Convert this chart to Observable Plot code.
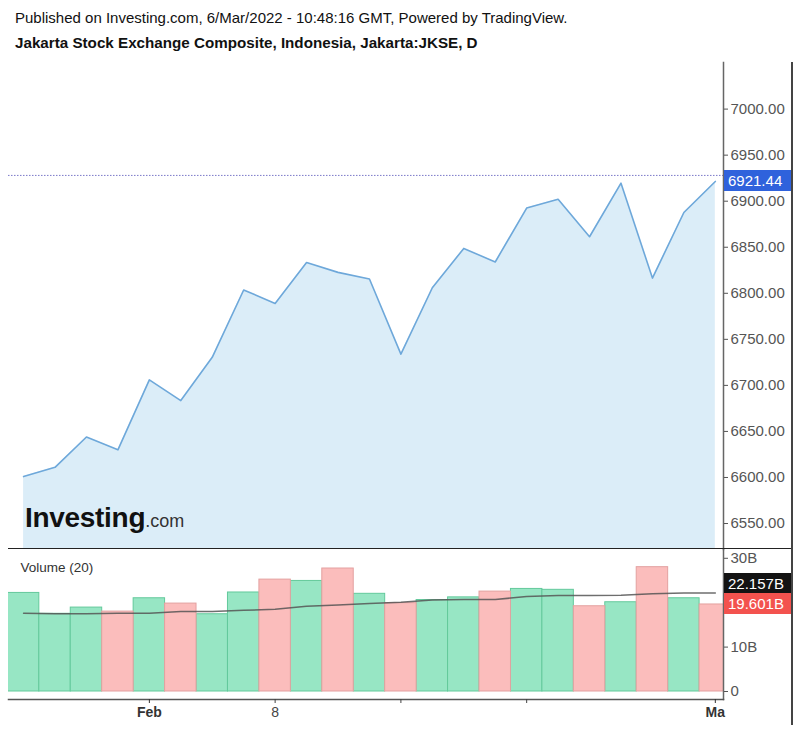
<!DOCTYPE html>
<html><head><meta charset="utf-8">
<script src="https://cdn.jsdelivr.net/npm/d3@7"></script>
<script src="https://cdn.jsdelivr.net/npm/@observablehq/plot@0.6"></script>
<style>
body{margin:0;background:#fff;font-family:"Liberation Sans",Arial,sans-serif;}
#wrap{position:relative;width:800px;height:730px;overflow:hidden;background:#fff;}
.h1{position:absolute;left:15px;top:9px;font-size:15px;color:#111;white-space:nowrap;}
.h2{position:absolute;left:15px;top:34px;font-size:15.2px;font-weight:bold;color:#111;white-space:nowrap;}
#price{position:absolute;left:0;top:60px;}
#vol{position:absolute;left:0;top:549px;}
.sep{position:absolute;left:8px;top:548px;width:784px;height:0;border-top:1.5px solid #222;}
.rb{position:absolute;left:791px;top:62px;width:0;height:663px;border-left:2px solid #444;}
.logo{position:absolute;left:25px;top:504px;line-height:28px;white-space:nowrap;}
.logo .inv{font-size:28px;font-weight:bold;color:#111;letter-spacing:-0.3px;}
.logo .com{font-size:18px;color:#333;}
.tag{position:absolute;left:724px;width:63px;height:21px;line-height:21px;padding-left:4px;font-size:15px;color:#fff;white-space:nowrap;}
</style>
</head><body>
<div id="wrap">
  <div class="h1">Published on Investing.com, 6/Mar/2022 - 10:48:16 GMT, Powered by TradingView.</div>
  <div class="h2">Jakarta Stock Exchange Composite, Indonesia, Jakarta:JKSE, D</div>
  <div id="price"></div>
  <div id="vol"></div>
  <div class="sep"></div>
  <div class="rb"></div>
  <div class="logo"><span class="inv">Investing</span><span class="com">.com</span></div>
</div>
<script>
// ---- data ----
const dates = ["2022-01-26","2022-01-27","2022-01-28","2022-01-31","2022-02-02","2022-02-03","2022-02-04","2022-02-07","2022-02-08","2022-02-09","2022-02-10","2022-02-11","2022-02-14","2022-02-15","2022-02-16","2022-02-17","2022-02-18","2022-02-21","2022-02-22","2022-02-23","2022-02-24","2022-02-25","2022-03-01"];
const closes = [6601, 6611, 6644, 6630, 6706, 6683.5, 6730.5, 6803.6, 6789, 6833.5, 6822.7, 6815.5, 6734, 6806, 6848.7, 6834, 6892.5, 6902, 6861.4, 6919.6, 6816.5, 6887.7, 6921.44];
const volumes = [22.2, 17.5, 18.9, 18.0, 21.0, 19.8, 17.4, 22.3, 25.2, 24.9, 27.7, 22.0, 19.9, 20.6, 21.2, 22.5, 23.1, 22.9, 19.2, 20.1, 28.0, 21.0, 19.601];
const volDir = ["up","up","up","down","up","down","up","up","down","up","down","up","down","up","up","down","up","up","down","up","down","up","down"];
const volMA = [17.6, 17.5, 17.5, 17.6, 17.6, 18.0, 18.0, 18.3, 18.5, 19.2, 19.5, 19.8, 20.1, 20.6, 20.7, 20.7, 21.4, 21.6, 21.6, 21.7, 22.0, 22.2, 22.157];
const priceTicks = [6550, 6600, 6650, 6700, 6750, 6800, 6850, 6900, 6950, 7000];
const volTicks = [0, 10, 30];
const xTickIdx = [4, 8, 12, 16, 22];
const xTickLabels = ["Feb", "8", "", "", "Ma"];
const xTickBold = [true, false, false, false, true];
const priceLine = 6928;
const lastPriceLabel = "6921.44";
const volMALabel = "22.157B";
const volLastLabel = "19.601B";

// ---- layout / style ----
const font = '"Liberation Sans", Arial, sans-serif';
const xDomain = [-0.48, 22.26];
const priceDomain = [6521.8, 7050.6];
const volDomain = [-1.8, 31.98];
const green = "#97e6c4", greenStroke = "#63c99b";
const red = "#fbbdbc", redStroke = "#e3a1a0";

const priceData = dates.map((d, i) => ({i, date: d, close: closes[i]}));
const volData = dates.map((d, i) => ({i, vol: volumes[i], dir: volDir[i], ma: volMA[i]}));

const pricePlot = Plot.plot({
  width: 800, height: 489,
  marginLeft: 8, marginRight: 77, marginTop: 2, marginBottom: 0,
  style: {fontFamily: font, fontSize: "15px", background: "transparent", overflow: "visible"},
  x: {type: "linear", domain: xDomain, axis: null, label: null},
  y: {domain: priceDomain, axis: null, label: null},
  marks: [
    Plot.areaY(priceData, {x: "i", y1: priceDomain[0], y2: "close", fill: "#dbedf8"}),
    Plot.lineY(priceData, {x: "i", y: "close", stroke: "#6ea8da", strokeWidth: 1.6}),
    Plot.ruleY([priceLine], {stroke: "#7a78c8", strokeWidth: 1, strokeDasharray: "1.5,1.5"}),
    Plot.frame({anchor: "right", stroke: "#666", strokeWidth: 1.5}),
    Plot.axisY({anchor: "right", label: null, ticks: priceTicks, tickFormat: d => d.toFixed(2), tickSize: 4, tickPadding: 3, fontSize: 15, color: "#555"})
  ]
});

const volPlot = Plot.plot({
  width: 800, height: 181,
  marginLeft: 8, marginRight: 77, marginTop: 0, marginBottom: 31,
  style: {fontFamily: font, fontSize: "15px", background: "transparent", overflow: "visible"},
  x: {type: "linear", domain: xDomain, axis: null, label: null},
  y: {domain: volDomain, axis: null, label: null},
  marks: [
    Plot.rectY(volData.filter(d => d.dir === "up"), {x1: d => d.i - 0.5, x2: d => d.i + 0.5, y1: 0, y2: "vol", fill: green, stroke: greenStroke, strokeWidth: 1, clip: true}),
    Plot.rectY(volData.filter(d => d.dir === "down"), {x1: d => d.i - 0.5, x2: d => d.i + 0.5, y1: 0, y2: "vol", fill: red, stroke: redStroke, strokeWidth: 1, clip: true}),
    Plot.lineY(volData, {x: "i", y: "ma", stroke: "#555", strokeOpacity: 0.85, strokeWidth: 1.5}),
    Plot.frame({anchor: "right", stroke: "#666", strokeWidth: 1.5}),
    Plot.frame({anchor: "bottom", stroke: "#555", strokeWidth: 1.5}),
    Plot.axisY({anchor: "right", label: null, ticks: volTicks, tickFormat: d => d === 0 ? "0" : d + "B", tickSize: 4, tickPadding: 3, fontSize: 15, color: "#555"}),
    Plot.axisX({anchor: "bottom", label: null, ticks: xTickIdx.filter((t, k) => xTickBold[k]), tickFormat: t => xTickLabels[xTickIdx.indexOf(t)], tickSize: 4, tickPadding: 4, fontSize: 14, fontWeight: "bold", color: "#333"}),
    Plot.axisX({anchor: "bottom", label: null, ticks: xTickIdx.filter((t, k) => !xTickBold[k]), tickFormat: t => xTickLabels[xTickIdx.indexOf(t)], tickSize: 4, tickPadding: 4, fontSize: 14, color: "#444"}),
    Plot.text(["Volume (20)"], {frameAnchor: "top-left", text: d => d, dx: 12, dy: 18, textAnchor: "start", lineAnchor: "middle", fill: "#333", fontSize: 13.5})
  ]
});

document.getElementById("price").appendChild(pricePlot);
document.getElementById("vol").appendChild(volPlot);

// value tags on the right axis, positioned through the plots' own y scales
const wrap = document.getElementById("wrap");
function addTag(plot, paneTop, value, label, bg, dy) {
  const y = plot.scale("y").apply(value);
  const el = document.createElement("div");
  el.className = "tag";
  el.textContent = label;
  el.style.background = bg;
  el.style.top = (paneTop + y - 10.5 + dy) + "px";
  wrap.appendChild(el);
}
addTag(pricePlot, 60, closes[closes.length - 1], lastPriceLabel, "#2f62dc", 0);
addTag(volPlot, 549, volMA[volMA.length - 1], volMALabel, "#131313", -9);
addTag(volPlot, 549, volumes[volumes.length - 1], volLastLabel, "#f3524e", 0);
</script>
</body></html>
